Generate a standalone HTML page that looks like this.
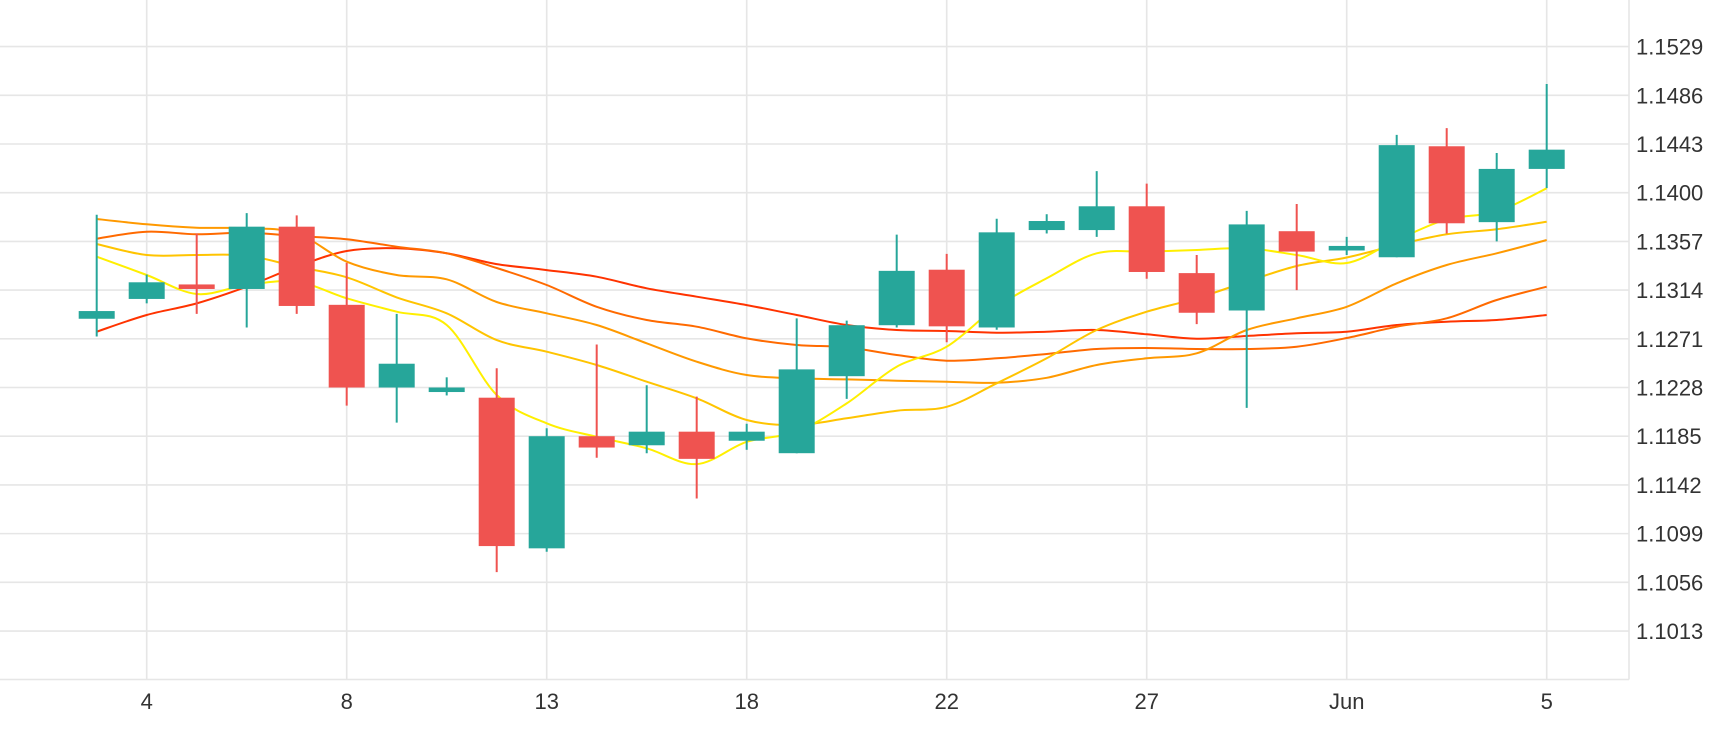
<!DOCTYPE html>
<html><head><meta charset="utf-8"><style>
html,body{margin:0;padding:0;background:#fff;}
svg{display:block;font-family:"Liberation Sans",sans-serif;}
</style></head><body>
<svg id="chart" width="1730" height="730" viewBox="0 0 1730 730" xmlns="http://www.w3.org/2000/svg">
<g id="grid"></g>
<g id="lines"></g>
<g id="candles"></g>
<g id="axes"></g>
</svg>
<script>
const xLabels = ["4","8","13","18","22","27","Jun","5"];
const xLabelIdx = [1,5,9,13,17,21,25,29];
const yTicks = [1.1013,1.1056,1.1099,1.1142,1.1185,1.1228,1.1271,1.1314,1.1357,1.1400,1.1443,1.1486,1.1529];
const open  = [1.12887,1.13062,1.1319,1.1315,1.1370,1.1301,1.1228,1.1224,1.1219,1.1086,1.1185,1.1177,1.1189,1.1181,1.1170,1.1238,1.1283,1.1332,1.1281,1.1367,1.1367,1.1388,1.1329,1.1296,1.1366,1.1349,1.1343,1.1441,1.1374,1.1421];
const close = [1.12955,1.13209,1.1315,1.1370,1.1300,1.1228,1.1249,1.1228,1.1088,1.1185,1.1175,1.1189,1.1165,1.1189,1.1244,1.1283,1.1331,1.1282,1.1365,1.1375,1.1388,1.1330,1.1294,1.1372,1.1348,1.1353,1.1442,1.1373,1.1421,1.1438];
const high  = [1.13805,1.13277,1.1364,1.1382,1.1380,1.1338,1.1293,1.1237,1.1245,1.1192,1.1266,1.1230,1.1220,1.1196,1.1289,1.1287,1.1363,1.1346,1.1377,1.1381,1.1419,1.1408,1.1345,1.1384,1.1390,1.1361,1.1451,1.1457,1.1435,1.1496];
const low   = [1.1273,1.13023,1.1293,1.1281,1.1293,1.1212,1.1197,1.1221,1.1065,1.1083,1.1166,1.1170,1.1130,1.1173,1.1170,1.1218,1.1281,1.1268,1.1279,1.1364,1.1361,1.1324,1.1284,1.1210,1.1314,1.1345,1.1343,1.1364,1.1357,1.1404];
const maYellow = [1.13435,1.13273,1.13106,1.13185,1.13214,1.13068,1.12949,1.12832,1.12214,1.11964,1.11845,1.11743,1.11604,1.11801,1.1189,1.1214,1.12464,1.1264,1.12993,1.13244,1.13465,1.13479,1.13494,1.13509,1.1345,1.13379,1.13582,1.13765,1.13832,1.14039];
const maAmber = [1.13547,1.1345,1.1345,1.13444,1.13347,1.13253,1.13076,1.12935,1.12699,1.12596,1.12479,1.12331,1.12185,1.11993,1.11949,1.12008,1.12075,1.1211,1.12317,1.12538,1.12788,1.12949,1.13068,1.13214,1.13353,1.13428,1.13538,1.13633,1.13677,1.13744];
const maOrange = [1.13768,1.13721,1.13691,1.13686,1.13642,1.13391,1.13273,1.13235,1.13035,1.12935,1.12832,1.1267,1.12508,1.1239,1.12361,1.12352,1.1234,1.12331,1.12322,1.12366,1.12479,1.12538,1.12582,1.12788,1.12891,1.12993,1.132,1.13362,1.13465,1.13582];
const maDarkOrange = [1.13594,1.13656,1.13633,1.13647,1.13618,1.13589,1.13523,1.13465,1.13335,1.13185,1.12993,1.12876,1.12817,1.12714,1.12655,1.12635,1.12567,1.12517,1.12538,1.12576,1.1262,1.12629,1.1262,1.1262,1.1264,1.12717,1.12817,1.12891,1.13053,1.1317];
const maRed = [1.12773,1.1292,1.13023,1.1317,1.13347,1.13485,1.13509,1.13465,1.1337,1.13317,1.13258,1.13156,1.13082,1.13008,1.1292,1.12832,1.12788,1.12779,1.12764,1.12773,1.12788,1.1275,1.12711,1.12735,1.12759,1.12773,1.12832,1.12861,1.12876,1.1292];

const NS="http://www.w3.org/2000/svg";
const PR=1629, PB=679.5;
function X(i){return 96.7+50*i;}
function Y(v){return 192.7+(1.14-v)*11326;}
function mk(tag,attrs,parent){const e=document.createElementNS(NS,tag);for(const k in attrs)e.setAttribute(k,attrs[k]);parent.appendChild(e);return e;}
const grid=document.getElementById('grid'), axes=document.getElementById('axes');
// horizontal gridlines
for(let k=-1;k<=yTicks.length;k++){
  const v=1.1013+k*0.0043; const y=Y(v);
  if(y<-2||y>PB-2) continue;
  const l=mk('line',{x1:0,x2:PR,y1:y,y2:y,stroke:'#e6e6e6','stroke-width':1.6},grid);
  
  
}
xLabelIdx.forEach((idx,j)=>{
  const l=mk('line',{x1:X(idx),x2:X(idx),y1:0,y2:PB,stroke:'#e6e6e6','stroke-width':1.6},grid);
  
  
  const t=mk('text',{x:X(idx),y:709,'text-anchor':'middle','font-size':22,fill:'#333'},axes);
  t.textContent=xLabels[j];
  
  
});
const bx=mk('line',{x1:PR,x2:PR,y1:0,y2:PB,stroke:'#e6e6e6','stroke-width':1.6},axes);


const by=mk('line',{x1:0,x2:PR,y1:PB,y2:PB,stroke:'#e6e6e6','stroke-width':1.6},axes);


yTicks.forEach(v=>{
  const t=mk('text',{x:1636,y:Y(v)+8,'font-size':22,fill:'#333'},axes);
  t.textContent=v.toFixed(4);
  
  
});
// MA lines
function smooth(arr){
  const p=arr.map((v,i)=>[X(i),Y(v)]);
  let d='M'+p[0][0]+','+p[0][1];
  for(let i=0;i<p.length-1;i++){
    const p0=p[i-1]||p[i],p1=p[i],p2=p[i+1],p3=p[i+2]||p2;
    const c1=[p1[0]+(p2[0]-p0[0])/6,p1[1]+(p2[1]-p0[1])/6];
    const c2=[p2[0]-(p3[0]-p1[0])/6,p2[1]-(p3[1]-p1[1])/6];
    d+=' C'+c1[0].toFixed(1)+','+c1[1].toFixed(1)+' '+c2[0].toFixed(1)+','+c2[1].toFixed(1)+' '+p2[0].toFixed(1)+','+p2[1].toFixed(1);
  }
  return d;
}
const lines=document.getElementById('lines');
[[maRed,'#ff3300','ma-red-line'],[maDarkOrange,'#ff6a00','ma-dark-orange-line'],[maOrange,'#ff9900','ma-orange-line'],[maAmber,'#ffc400','ma-amber-line'],[maYellow,'#ffef00','ma-yellow-line']].forEach(s=>{
  const p=mk('path',{d:smooth(s[0]),fill:'none',stroke:s[1],'stroke-width':2},lines);
  
  
});
// candles
const cg=document.getElementById('candles');
open.forEach((o,i)=>{
  const c=close[i], up=c>=o, col=up?'#26a69a':'#ef5350';
  const g=mk('g',{},cg);
  
  
  mk('line',{x1:X(i),x2:X(i),y1:Y(high[i]),y2:Y(low[i]),stroke:col,'stroke-width':2},g);
  const top=Y(Math.max(o,c)), h=Math.max(2,Math.abs(Y(o)-Y(c)));
  mk('rect',{x:X(i)-18,y:top,width:36,height:h,fill:col},g);
});
</script>
</body></html>
